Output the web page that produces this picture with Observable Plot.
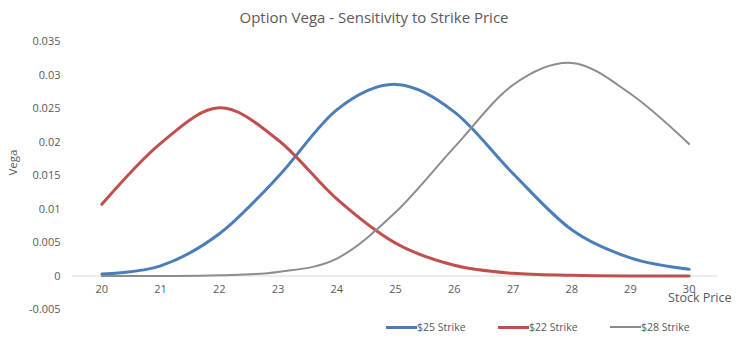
<!DOCTYPE html>
<html>
<head>
<meta charset="utf-8">
<script src="https://cdn.jsdelivr.net/npm/d3@7"></script>
<script src="https://cdn.jsdelivr.net/npm/@observablehq/plot@0.6"></script>
<style>
  body { margin: 0; background: #fff; font-family: "Open Sans", sans-serif; }
  #wrap { position: relative; width: 744px; height: 341px; overflow: hidden; }
  #title { position: absolute; top: 7px; left: 0; width: 748px; text-align: center; font-size: 15px; color: #595959; }
  #chart { position: absolute; top: 30px; left: 0; }
  #legend { position: absolute; top: 320px; left: 386px; display: flex; align-items: center; font-size: 10.5px; color: #595959; white-space: nowrap; }
  .item { display: flex; align-items: center; width: 112px; }
  .sw { width: 31px; height: 3px; margin-right: 0px; }
</style>
</head>
<body>
<div id="wrap">
  <div id="title">Option Vega - Sensitivity to Strike Price</div>
  <div id="chart"></div>
  <div id="legend"></div>
</div>
<script>
// Data
const stockPrices = [20, 21, 22, 23, 24, 25, 26, 27, 28, 29, 30];
const xTickLabels = ["20", "21", "22", "23", "24", "25", "26", "27", "28", "29", "30"];
const vega25 = [0.0003, 0.0015, 0.0063, 0.0148, 0.0248, 0.0286, 0.0245, 0.0153, 0.0069, 0.0027, 0.0010];
const vega22 = [0.0107, 0.0198, 0.0251, 0.0203, 0.0115, 0.0049, 0.0016, 0.0004, 0.0001, 0.0000, 0.0000];
const vega28 = [0.0000, 0.0000, 0.0001, 0.0006, 0.0026, 0.0095, 0.0192, 0.0285, 0.0318, 0.0272, 0.0197];
const seriesNames = ["$25 Strike", "$22 Strike", "$28 Strike"];
const seriesValues = [vega25, vega22, vega28];
const seriesColors = ["#4a7ebb", "#c0504d", "#8c8c8c"];
const seriesWidths = [3, 3, 2];
const yTicks = [-0.005, 0, 0.005, 0.01, 0.015, 0.02, 0.025, 0.03, 0.035];
const yTickLabels = ["-0.005", "0", "0.005", "0.01", "0.015", "0.02", "0.025", "0.03", "0.035"];
const xLabel = "Stock Price";
const yLabel = "Vega";

const rows = seriesNames.flatMap((name, s) =>
  stockPrices.map((x, i) => ({ x, y: seriesValues[s][i], series: name })));

const lineMarks = seriesNames.map((name, s) =>
  Plot.line(rows.filter(r => r.series === name), {
    x: "x", y: "y",
    stroke: seriesColors[s], strokeWidth: seriesWidths[s],
    curve: "cardinal", tension: 0, strokeLinejoin: "round", strokeLinecap: "round"
  }));

const chart = Plot.plot({
  width: 744, height: 290,
  marginLeft: 72, marginRight: 26, marginTop: 11, marginBottom: 11,
  style: { fontFamily: "Open Sans, sans-serif", fontSize: "11px", color: "#595959", background: "transparent" },
  x: { domain: [19.5, 30.5], axis: null },
  y: {
    domain: [-0.005, 0.035], ticks: yTicks, tickSize: 0, tickPadding: 12, label: null,
    tickFormat: d => yTickLabels[yTicks.findIndex(t => Math.abs(t - d) < 1e-9)]
  },
  marks: [
    Plot.ruleY([0], { stroke: "#d9d9d9", strokeWidth: 1 }),
    Plot.text(stockPrices, { x: d => d, y: 0, dy: 13, text: (d, i) => xTickLabels[i], fill: "#595959" }),
    ...lineMarks,
    Plot.text([yLabel], { frameAnchor: "left", dx: -59, rotate: -90, text: d => d, fill: "#595959", fontSize: 11.5 }),
    Plot.text([xLabel], { x: 30.5, y: 0, dx: 13, dy: 22, textAnchor: "end", text: d => d, fill: "#595959", fontSize: 12.5 })
  ]
});
document.getElementById("chart").appendChild(chart);

const legend = document.getElementById("legend");
seriesNames.forEach((name, s) => {
  const item = document.createElement("div");
  item.className = "item";
  const sw = document.createElement("div");
  sw.className = "sw";
  sw.style.background = seriesColors[s];
  sw.style.height = seriesWidths[s] + "px";
  const label = document.createElement("span");
  label.textContent = name;
  item.appendChild(sw);
  item.appendChild(label);
  legend.appendChild(item);
});
</script>
</body>
</html>
